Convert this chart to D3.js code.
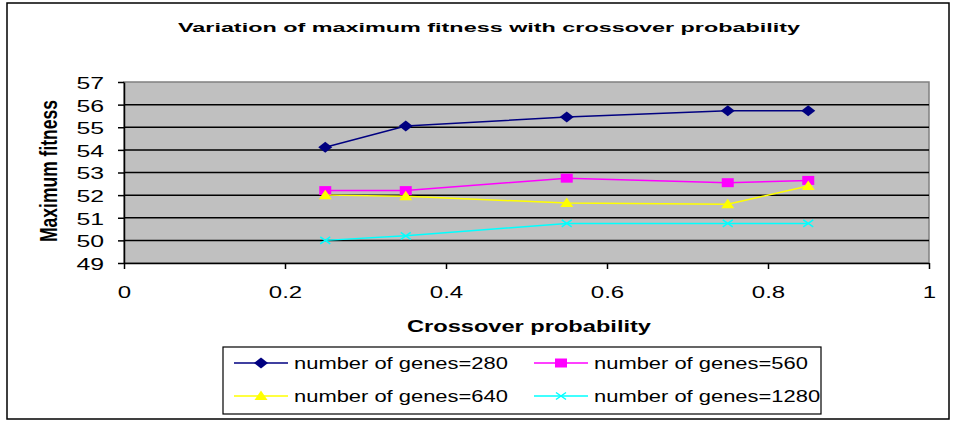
<!DOCTYPE html>
<html>
<head>
<meta charset="utf-8">
<script src="https://cdn.jsdelivr.net/npm/d3@7"></script>
<style>
body { margin: 0; background: #fff; }
svg text { font-family: Arial, "Liberation Sans", sans-serif; }
</style>
</head>
<body>
<div class="container"></div>
<script>
const WIDTH = 956;
const HEIGHT = 421;

var xValues = [0.25, 0.35, 0.55, 0.75, 0.85];
var genes280 = [54.12, 55.05, 55.45, 55.73, 55.73];
var genes560 = [52.2, 52.2, 52.75, 52.55, 52.65];
var genes640 = [52.0, 51.95, 51.65, 51.6, 52.4];
var genes1280 = [50.0, 50.2, 50.75, 50.75, 50.75];
var seriesNames = ['number of genes=280', 'number of genes=560', 'number of genes=640', 'number of genes=1280'];
var xTicks = [0, 0.2, 0.4, 0.6, 0.8, 1];
var yTicks = [49, 50, 51, 52, 53, 54, 55, 56, 57];

var series = [
    { name: seriesNames[0], values: genes280, color: '#000080', marker: 'diamond' },
    { name: seriesNames[1], values: genes560, color: '#ff00ff', marker: 'square' },
    { name: seriesNames[2], values: genes640, color: '#ffff00', marker: 'triangle' },
    { name: seriesNames[3], values: genes1280, color: '#00ffff', marker: 'cross' }
];

var translate = function(x, y) {
    return `translate(${x},${y})`;
};

// the source picture is stretched sideways, so widen the glyphs
var stretch = function(sel, k) {
    sel.each(function() {
        var w = this.getComputedTextLength();
        d3.select(this)
            .attr('textLength', w * k)
            .attr('lengthAdjust', 'spacingAndGlyphs');
    });
};

// markers are a bit wider than tall, like the source
var markerPaths = {
    diamond: 'M-7,0L0,-5.5L7,0L0,5.5Z',
    square: 'M-6,-4.5H6V4.5H-6Z',
    triangle: 'M0,-5.5L6.5,4H-6.5Z',
    cross: 'M-5,-3.5L5,3.5M-5,3.5L5,-3.5'
};

var drawMarker = function(g, type, color) {
    var p = g.append('path').attr('d', markerPaths[type]);
    if (type === 'cross') {
        p.attr('fill', 'none').attr('stroke', color).attr('stroke-width', 1.5);
    } else {
        p.attr('fill', color);
    }
};

var fillLayout = function() {
    var svg = d3.select('.container').append('svg')
        .attr('width', WIDTH)
        .attr('height', HEIGHT);

    // outer frame
    svg.append('rect')
        .attr('x', 7).attr('y', 3)
        .attr('width', 942).attr('height', 416)
        .attr('fill', 'white')
        .attr('stroke', 'black')
        .attr('stroke-width', 1.5);

    var left = 124, right = 929, top = 82, bottom = 263;

    let xScale = d3.scaleLinear().domain([0, 1]).range([left, right]);
    let yScale = d3.scaleLinear().domain([49, 57]).range([bottom, top]);

    svg.append('rect')
        .attr('x', left).attr('y', top)
        .attr('width', right - left).attr('height', bottom - top)
        .attr('fill', '#c0c0c0')
        .attr('stroke', '#808080')
        .attr('stroke-width', 1.5);

    // gridlines
    svg.append('g').selectAll('line')
        .data(yTicks.slice(1, -1))
        .join('line')
        .attr('x1', left).attr('x2', right)
        .attr('y1', d => yScale(d)).attr('y2', d => yScale(d))
        .attr('stroke', 'black')
        .attr('stroke-width', 1.5);

    let yAxis = d3.axisLeft(yScale).tickValues(yTicks).tickSize(6).tickSizeOuter(0).tickPadding(14);
    let xAxis = d3.axisBottom(xScale).tickValues(xTicks).tickFormat(d => d).tickSize(6).tickSizeOuter(0).tickPadding(18);

    var ya = svg.append('g').attr('transform', translate(left, 0)).call(yAxis);
    var xa = svg.append('g').attr('transform', translate(0, bottom)).call(xAxis);
    [ya, xa].forEach(a => {
        a.selectAll('path, line').attr('stroke', 'black').attr('stroke-width', 1.5);
        a.selectAll('text').attr('font-size', 16).attr('fill', 'black')
            .style('font-family', 'Arial, "Liberation Sans", sans-serif');
    });
    ya.selectAll('text').attr('dy', '0.4em');
    stretch(ya.selectAll('text'), 1.55);
    stretch(xa.selectAll('text'), 1.5);

    var line = d3.line()
        .x((d, i) => xScale(xValues[i]))
        .y(d => yScale(d));

    series.forEach(s => {
        svg.append('path')
            .attr('d', line(s.values))
            .attr('fill', 'none')
            .attr('stroke', s.color)
            .attr('stroke-width', 1.5);
        s.values.forEach((v, i) => {
            var m = svg.append('g').attr('transform', translate(xScale(xValues[i]), yScale(v)));
            drawMarker(m, s.marker, s.color);
        });
    });

    svg.append('text')
        .attr('x', 489).attr('y', 32)
        .attr('text-anchor', 'middle')
        .attr('font-size', 13.5).attr('font-weight', 'bold')
        .attr('textLength', 622).attr('lengthAdjust', 'spacingAndGlyphs')
        .text('Variation of maximum fitness with crossover probability');

    svg.append('text')
        .attr('x', 529).attr('y', 332)
        .attr('text-anchor', 'middle')
        .attr('font-size', 16).attr('font-weight', 'bold')
        .attr('textLength', 244).attr('lengthAdjust', 'spacingAndGlyphs')
        .text('Crossover probability');

    svg.append('text')
        .attr('transform', translate(57, 171) + ' scale(1.45,1) rotate(-90)')
        .attr('text-anchor', 'middle')
        .attr('font-size', 16).attr('font-weight', 'bold')
        .attr('textLength', 142).attr('lengthAdjust', 'spacingAndGlyphs')
        .text('Maximum fitness');

    // legend
    var lg = svg.append('g').attr('transform', translate(223, 347));
    lg.append('rect')
        .attr('width', 598).attr('height', 67)
        .attr('fill', 'white')
        .attr('stroke', 'black')
        .attr('stroke-width', 1.2);
    series.forEach((s, i) => {
        var col = i % 2, row = Math.floor(i / 2);
        var it = lg.append('g').attr('transform', translate(11 + col * 300, 16 + row * 33));
        it.append('line').attr('x1', 0).attr('x2', 54)
            .attr('stroke', s.color).attr('stroke-width', 1.5);
        drawMarker(it.append('g').attr('transform', translate(27, 0)), s.marker, s.color);
        var t = it.append('text')
            .attr('x', 60).attr('y', 6)
            .attr('font-size', 16)
            .text(s.name);
        stretch(t, 1.37);
    });
};
window.onload = fillLayout;
</script>
</body>
</html>
